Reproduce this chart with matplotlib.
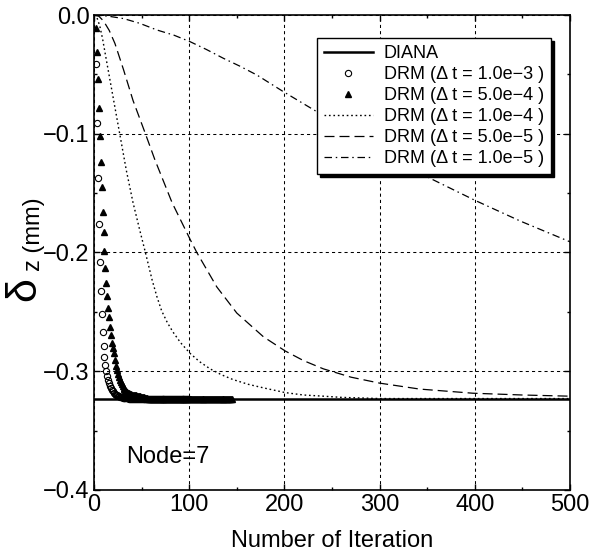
import matplotlib.pyplot as plt
import numpy as np
from matplotlib.ticker import MultipleLocator

plt.rcParams["font.family"] = ["Liberation Sans", "DejaVu Sans"]

# DIANA reference solution (constant)
diana_iters = [0, 500]
diana_dz = [-0.323, -0.323]

# DRM, dt = 1.0e-3 (open circles), one point per iteration 2..100
circle_iters = np.arange(2, 101)
circle_dz = [
    -0.0415, -0.091, -0.1375, -0.176, -0.208, -0.232, -0.252, -0.267, -0.279, -0.288,
    -0.295, -0.300, -0.304, -0.307, -0.310, -0.3125, -0.3145, -0.316, -0.317, -0.318,
    -0.319, -0.3197, -0.3203, -0.3208, -0.3212, -0.3215, -0.3218, -0.322, -0.3222, -0.3224,
    -0.3225, -0.3226, -0.3227, -0.3228, -0.3229,
    -0.323, -0.323, -0.323, -0.323, -0.323, -0.323, -0.323, -0.323, -0.323, -0.323,
    -0.323, -0.323, -0.323, -0.323, -0.323, -0.323, -0.323, -0.323, -0.323, -0.323,
    -0.323, -0.323, -0.323, -0.323, -0.323, -0.323, -0.323, -0.323, -0.323, -0.323,
    -0.323, -0.323, -0.323, -0.323, -0.323, -0.323, -0.323, -0.323, -0.323, -0.323,
    -0.323, -0.323, -0.323, -0.323, -0.323, -0.323, -0.323, -0.323, -0.323, -0.323,
    -0.323, -0.323, -0.323, -0.323, -0.323, -0.323, -0.323, -0.323, -0.323, -0.323,
    -0.323, -0.323, -0.323, -0.323,
]

# DRM, dt = 5.0e-4 (filled triangles), one point per iteration 2..145
tri_iters = np.arange(2, 146)
tri_dz = [
    -0.011, -0.031, -0.054, -0.078, -0.102, -0.124, -0.145, -0.166, -0.1825, -0.1985,
    -0.213, -0.2254, -0.2366, -0.2465, -0.2546, -0.2625, -0.2695, -0.276, -0.2805, -0.285,
    -0.2905, -0.2955, -0.299, -0.3025, -0.305, -0.307, -0.309, -0.311, -0.3128, -0.3142,
    -0.3153, -0.3162, -0.317, -0.3176, -0.3181, -0.3185, -0.3189, -0.3193, -0.3196, -0.3198,
    -0.320, -0.3202, -0.3204, -0.3206, -0.3208, -0.321, -0.3212, -0.3214, -0.3216, -0.3218,
    -0.322, -0.3222, -0.3224, -0.3226, -0.3228,
    -0.323, -0.323, -0.323, -0.323, -0.323, -0.323, -0.323, -0.323, -0.323, -0.323,
    -0.323, -0.323, -0.323, -0.323, -0.323, -0.323, -0.323, -0.323, -0.323, -0.323,
    -0.323, -0.323, -0.323, -0.323, -0.323, -0.323, -0.323, -0.323, -0.323, -0.323,
    -0.323, -0.323, -0.323, -0.323, -0.323, -0.323, -0.323, -0.323, -0.323, -0.323,
    -0.323, -0.323, -0.323, -0.323, -0.323, -0.323, -0.323, -0.323, -0.323, -0.323,
    -0.323, -0.323, -0.323, -0.323, -0.323, -0.323, -0.323, -0.323, -0.323, -0.323,
    -0.323, -0.323, -0.323, -0.323, -0.323, -0.323, -0.323, -0.323, -0.323, -0.323,
    -0.323, -0.323, -0.323, -0.323, -0.323, -0.323, -0.323, -0.323, -0.323, -0.323,
    -0.323, -0.323, -0.323, -0.323, -0.323, -0.323, -0.323, -0.323, -0.323,
]

# DRM, dt = 1.0e-4 (dotted)
dt1e4_iters = [0, 3, 6, 9, 13, 20, 27, 34, 41, 48, 54, 61, 66, 71, 77, 83, 91, 101,
               111, 122, 134, 146, 162, 178, 201, 220, 241, 260, 300, 500]
dt1e4_dz = [0.0, -0.002, -0.009, -0.020, -0.038, -0.069, -0.100, -0.131, -0.158, -0.181,
            -0.200, -0.223, -0.237, -0.249, -0.259, -0.267, -0.276, -0.285,
            -0.292, -0.298, -0.303, -0.307, -0.311, -0.314, -0.318, -0.320, -0.321,
            -0.322, -0.323, -0.323]

# DRM, dt = 5.0e-5 (dashed)
dt5e5_iters = [0, 5, 10, 16, 22, 31, 41, 54, 64, 82, 101, 108, 129, 150, 178, 201,
               220, 241, 270, 300, 342, 398, 450, 500]
dt5e5_dz = [0.0, -0.001, -0.005, -0.013, -0.024, -0.046, -0.072, -0.100, -0.122, -0.158,
            -0.189, -0.200, -0.229, -0.251, -0.271, -0.283, -0.291, -0.298, -0.305,
            -0.310, -0.315, -0.3185, -0.320, -0.321]

# DRM, dt = 1.0e-5 (dash-dot)
dt1e5_iters = [0, 15, 31, 48, 66, 84, 101, 118, 136, 153, 171, 199, 234, 290, 353, 400, 448, 500]
dt1e5_dz = [0.0, -0.001, -0.003, -0.007, -0.0126, -0.017, -0.0225, -0.029, -0.0365,
            -0.043, -0.0505, -0.0646, -0.0814, -0.110, -0.1375, -0.156, -0.1736, -0.191]


def draw_chart():
    fig = plt.figure(figsize=(5.89, 5.56), dpi=100)
    ax = fig.add_axes([94 / 589, 1 - 490 / 556, 476 / 589, 475 / 556])

    ax.plot(circle_iters, circle_dz, linestyle="none", marker="o", ms=4.5,
            mfc="none", mec="black", mew=0.8, label="DRM (\u0394 t = 1.0e\u22123 )", zorder=3)
    ax.plot(tri_iters, tri_dz, linestyle="none", marker="^", ms=4,
            color="black", label="DRM (\u0394 t = 5.0e\u22124 )", zorder=3)
    ax.plot(diana_iters, diana_dz, color="black", lw=1.8, label="DIANA", zorder=4)
    ax.plot(dt1e4_iters, dt1e4_dz, color="black", lw=1.0,
            linestyle=(0, (1.2, 2.0)), label="DRM (\u0394 t = 1.0e\u22124 )")
    ax.plot(dt5e5_iters, dt5e5_dz, color="black", lw=0.9,
            linestyle=(0, (8, 4)), label="DRM (\u0394 t = 5.0e\u22125 )")
    ax.plot(dt1e5_iters, dt1e5_dz, color="black", lw=0.9,
            linestyle=(0, (6, 3, 1.2, 3)), label="DRM (\u0394 t = 1.0e\u22125 )")

    ax.set_xlim(0, 500)
    ax.set_ylim(-0.4, 0.0)
    ax.xaxis.set_major_locator(MultipleLocator(100))
    ax.xaxis.set_minor_locator(MultipleLocator(50))
    ax.yaxis.set_major_locator(MultipleLocator(0.1))
    ax.yaxis.set_minor_locator(MultipleLocator(0.05))

    ax.tick_params(which="both", direction="in", top=True, right=True, width=1)
    ax.tick_params(which="major", length=4, labelsize=17, pad=3)
    ax.tick_params(which="minor", length=2.5)

    ax.grid(True, which="major", color="black", linestyle=(0, (3, 3)), linewidth=0.75)
    for spine in ax.spines.values():
        spine.set_linewidth(1.2)

    ax.set_xlabel("Number of Iteration", fontsize=17, labelpad=10)

    # y label: large delta followed by "z (mm)"
    fig.text(35 / 589, 1 - 301 / 556, "\u03b4", fontsize=31, rotation=90,
             rotation_mode="anchor", ha="left", va="baseline")
    fig.text(40 / 589, 1 - 271 / 556, "z (mm)", fontsize=17, rotation=90,
             rotation_mode="anchor", ha="left", va="baseline")

    ax.text(0.067, 0.069, "Node=7", transform=ax.transAxes, fontsize=17, va="center")

    handles, labels = ax.get_legend_handles_labels()
    order = [2, 0, 1, 3, 4, 5]
    leg = ax.legend([handles[i] for i in order], [labels[i] for i in order],
                    loc="upper right", bbox_to_anchor=(0.960, 0.9516),
                    borderaxespad=0, fontsize=13, numpoints=1,
                    handlelength=2.7, handletextpad=0.6, labelspacing=0.22,
                    borderpad=0.4, fancybox=False, edgecolor="black",
                    framealpha=1, shadow={"color": "black", "alpha": 1})
    leg.get_frame().set_linewidth(1.0)
    leg.set_zorder(5)

    fig.savefig("out.png", dpi=100)
    plt.close(fig)


def main():
    draw_chart()


if __name__ == "__main__":
    main()
